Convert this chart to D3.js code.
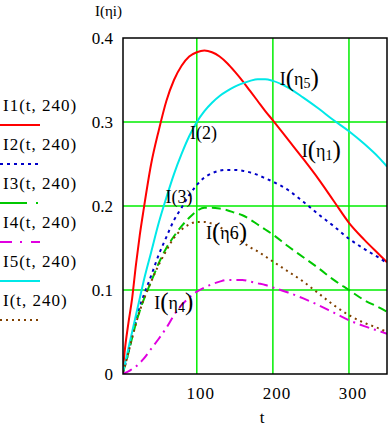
<!DOCTYPE html>
<html>
<head>
<meta charset="utf-8">
<script src="https://cdn.jsdelivr.net/npm/d3@7"></script>
<style>
  body { margin: 0; background: #fff; }
  svg { display: block; font-family: "Liberation Serif", "Times New Roman", serif; }
</style>
</head>
<body>
<div id="chart-container"></div>
<script>
// t values shared by every series
const tValues = [3, 5, 10, 15, 20, 25, 30, 40, 50, 60, 70, 80, 90, 100, 110, 120, 130, 140, 150, 160, 170, 180, 190, 200, 220, 240, 260, 280, 300, 320, 340, 350];

// series
const i1Values = [0.005, 0.025, 0.06, 0.09, 0.13, 0.165, 0.195, 0.25, 0.29, 0.325, 0.35, 0.367, 0.378, 0.383, 0.385, 0.383, 0.378, 0.37, 0.36, 0.349, 0.337, 0.325, 0.313, 0.302, 0.279, 0.256, 0.232, 0.206, 0.18, 0.16, 0.142, 0.133];
const i2Values = [0.002, 0.008, 0.025, 0.045, 0.063, 0.08, 0.093, 0.117, 0.142, 0.163, 0.183, 0.198, 0.213, 0.225, 0.234, 0.239, 0.242, 0.243, 0.243, 0.242, 0.24, 0.237, 0.233, 0.229, 0.219, 0.205, 0.19, 0.176, 0.161, 0.149, 0.138, 0.132];
const i3Values = [0.002, 0.008, 0.025, 0.043, 0.06, 0.075, 0.088, 0.11, 0.132, 0.15, 0.164, 0.176, 0.186, 0.194, 0.198, 0.198, 0.197, 0.195, 0.192, 0.189, 0.184, 0.178, 0.172, 0.166, 0.152, 0.139, 0.126, 0.112, 0.1, 0.088, 0.079, 0.074];
const i4Values = [0, 0.001, 0.003, 0.006, 0.009, 0.013, 0.018, 0.03, 0.042, 0.055, 0.07, 0.082, 0.091, 0.098, 0.103, 0.107, 0.11, 0.112, 0.112, 0.112, 0.11, 0.108, 0.106, 0.103, 0.097, 0.09, 0.082, 0.073, 0.064, 0.057, 0.051, 0.048];
const i5Values = [0.003, 0.01, 0.03, 0.05, 0.07, 0.09, 0.11, 0.145, 0.18, 0.21, 0.238, 0.262, 0.283, 0.3, 0.313, 0.323, 0.331, 0.337, 0.342, 0.346, 0.349, 0.351, 0.351, 0.349, 0.341, 0.329, 0.316, 0.302, 0.289, 0.274, 0.257, 0.247];
const i6Values = [0.002, 0.008, 0.025, 0.043, 0.06, 0.075, 0.088, 0.11, 0.13, 0.147, 0.162, 0.172, 0.178, 0.181, 0.181, 0.179, 0.175, 0.169, 0.163, 0.157, 0.151, 0.146, 0.14, 0.134, 0.122, 0.11, 0.096, 0.082, 0.07, 0.061, 0.054, 0.05];

const seriesNames = ["I1(t, 240)", "I2(t, 240)", "I3(t, 240)", "I4(t, 240)", "I5(t, 240)", "I(t, 240)"];
const seriesValues = [i1Values, i2Values, i3Values, i4Values, i5Values, i6Values];

const xTicks = [100, 200, 300];
const yTicks = [0, 0.1, 0.2, 0.3, 0.4];

// styles (kept apart from the data)
const seriesColors = ["#ff0000", "#0000c8", "#00c800", "#e000e0", "#00e8e8", "#804000"];
const seriesDash = [null, "3,4", "9,5", "10,5,2,5", null, "2,4"];
const legendDash = [null, "3,4", "27,9,2,2", "12,8,2,9", null, "2,4"];

// curve labels inside the plot
const curveLabels = [
    { t: 209, v: 0.344, base: "η", sub: "5" },
    { t: 238, v: 0.258, base: "η", sub: "1" },
    { t: 91, v: 0.28, plain: "I(2)" },
    { t: 59, v: 0.203, plain: "I(3)" },
    { t: 112, v: 0.161, base: "η", sub: "6", noSub: true },
    { t: 44, v: 0.077, base: "η", sub: "4" }
];

const width = 389, height = 428;
const plot = { left: 123, right: 387, top: 38, bottom: 374 };

const svg = d3.select("#chart-container")
    .append("svg")
    .attr("width", width)
    .attr("height", height);

const x = d3.scaleLinear().domain([3, 350]).range([plot.left, plot.right]);
const y = d3.scaleLinear().domain([0, 0.4]).range([plot.bottom, plot.top]);

// grid
const gridColor = "#00ee00";
svg.append("g").selectAll("line")
    .data(xTicks)
    .join("line")
    .attr("x1", d => x(d)).attr("x2", d => x(d))
    .attr("y1", plot.top).attr("y2", plot.bottom)
    .attr("stroke", gridColor).attr("stroke-width", 1.5);
svg.append("g").selectAll("line")
    .data(yTicks.filter(d => d > 0 && d < 0.4))
    .join("line")
    .attr("x1", plot.left).attr("x2", plot.right)
    .attr("y1", d => y(d)).attr("y2", d => y(d))
    .attr("stroke", gridColor).attr("stroke-width", 1.5);

// clip for curves
svg.append("clipPath").attr("id", "clip")
    .append("rect")
    .attr("x", plot.left).attr("y", plot.top)
    .attr("width", plot.right - plot.left).attr("height", plot.bottom - plot.top);

const line = d3.line()
    .x((d, i) => x(tValues[i]))
    .y(d => y(d))
    .curve(d3.curveMonotoneX);

const curves = svg.append("g").attr("clip-path", "url(#clip)");
seriesValues.forEach((vals, k) => {
    curves.append("path")
        .datum(vals)
        .attr("fill", "none")
        .attr("stroke", seriesColors[k])
        .attr("stroke-width", 2)
        .attr("stroke-dasharray", seriesDash[k])
        .attr("d", line);
});

// frame
svg.append("rect")
    .attr("x", plot.left).attr("y", plot.top)
    .attr("width", plot.right - plot.left).attr("height", plot.bottom - plot.top)
    .attr("fill", "none").attr("stroke", "#000").attr("stroke-width", 1.5);

// axis labels
svg.append("g").selectAll("text")
    .data(yTicks)
    .join("text")
    .attr("x", 113)
    .attr("y", d => y(d) + 6)
    .attr("text-anchor", "end")
    .style("font-size", "17px")
    .text(d => d === 0 ? "0" : d3.format(".1f")(d));

svg.append("g").selectAll("text")
    .data(xTicks)
    .join("text")
    .attr("x", d => x(d) + 4)
    .attr("y", 399)
    .attr("text-anchor", "middle")
    .style("font-size", "17px")
    .style("letter-spacing", "1px")
    .text(d => d);

svg.append("text")
    .attr("x", 262).attr("y", 423)
    .attr("text-anchor", "middle")
    .style("font-size", "17px")
    .text("t");

svg.append("text")
    .attr("x", 95).attr("y", 16)
    .style("font-size", "15px")
    .text("I(ηi)");

// legend
const legend = svg.append("g");
seriesNames.forEach((name, k) => {
    const ly = 111 + k * 39;
    legend.append("text")
        .attr("x", 3).attr("y", ly)
        .style("font-size", "17px")
        .style("letter-spacing", "1px")
        .text(name);
    legend.append("line")
        .attr("x1", 0).attr("x2", 40)
        .attr("y1", ly + 14).attr("y2", ly + 14)
        .attr("stroke", seriesColors[k])
        .attr("stroke-width", 2)
        .attr("stroke-dasharray", legendDash[k]);
});

// curve labels with the big Mathcad brackets
curveLabels.forEach(lb => {
    const tx = svg.append("text")
        .attr("x", x(lb.t)).attr("y", y(lb.v))
        .style("font-size", "18px");
    if (lb.plain) {
        tx.text(lb.plain);
        return;
    }
    tx.append("tspan").text("I");
    tx.append("tspan").style("font-size", "25px").attr("dy", 1).text("(");
    tx.append("tspan").attr("dy", -1).text(lb.base);
    if (lb.noSub) {
        tx.append("tspan").text(lb.sub);
        tx.append("tspan").style("font-size", "25px").attr("dy", 1).text(")");
    } else {
        tx.append("tspan").style("font-size", "14px").attr("dy", 3).text(lb.sub);
        tx.append("tspan").style("font-size", "25px").attr("dy", -2).text(")");
    }
});
</script>
</body>
</html>
